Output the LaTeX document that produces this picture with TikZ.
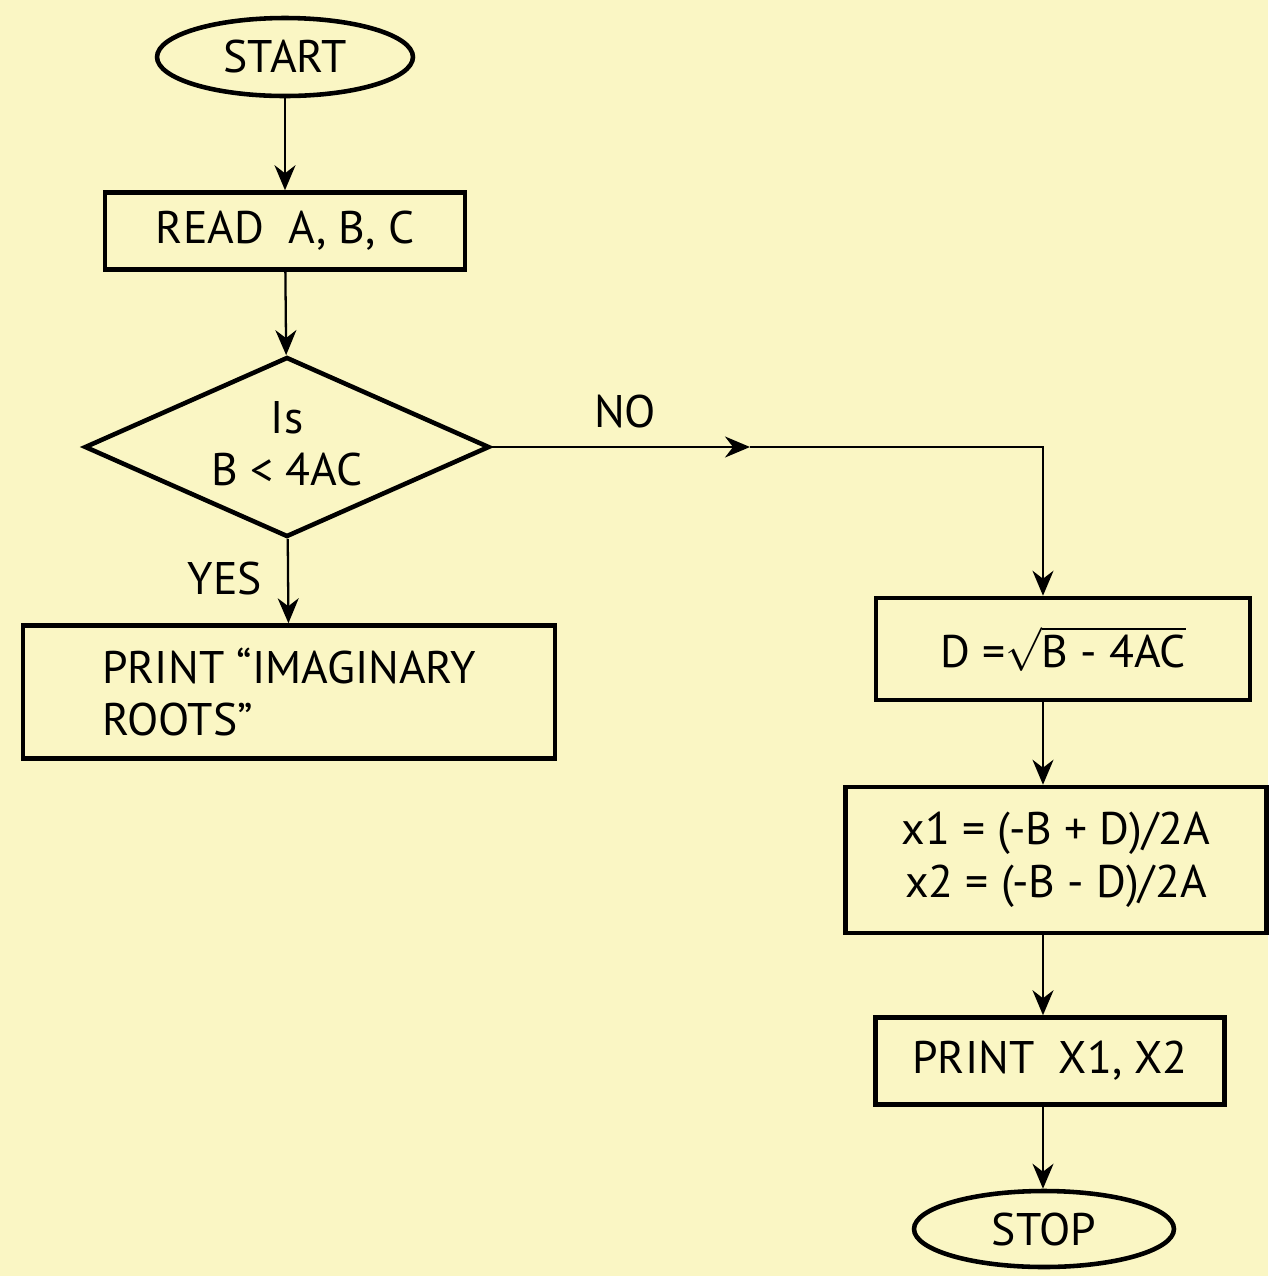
\documentclass[tikz,border=0pt]{standalone}
\usepackage{fontspec}
\setmainfont{PT Sans}
\usetikzlibrary{shapes,arrows.meta,positioning,calc}
\definecolor{paper}{RGB}{250,246,196}

\begin{document}
\begin{tikzpicture}[x=0.02cm, y=-0.02cm,
    every node/.style={font=\fontsize{26}{30}\selectfont, text=black},
    term/.style={draw, ellipse, line width=2.6pt, inner sep=0pt},
    procbox/.style={draw, rectangle, line width=2.6pt, inner sep=0pt},
    decision/.style={draw, diamond, aspect=2.25, line width=2.6pt, inner sep=0pt,
        minimum width=8.1cm, minimum height=3.6cm, align=center},
    flow/.style={line width=1.3pt, -{Stealth[length=5mm, width=4.2mm, inset=1.6mm]}}]
    \fill[paper] (0,0) rectangle (1268,1276);

    \node[term, minimum width=5.12cm, minimum height=1.56cm] (start) at (285,57) {START};
    \node[procbox, minimum width=7.2cm, minimum height=1.54cm] (read) at (285,231) {READ\ \ A, B, C};
    \node[decision] (dia) at (287,447) {\raisebox{4pt}{Is}\\\raisebox{4pt}{B < 4AC}};
    \node[procbox, minimum width=10.64cm, minimum height=2.66cm, align=left] (imag) at (289,692)
        {PRINT ``IMAGINARY\\ROOTS''};
    \node[procbox, minimum width=7.48cm, minimum height=2.04cm] (dbox) at (1063,649) {D =$\sqrt{\mbox{B - 4AC}}$};
    \node[procbox, minimum width=8.42cm, minimum height=2.92cm, align=center] (xbox) at (1056,860)
        {x1 = (-B + D)/2A\\x2 = (-B - D)/2A};
    \node[procbox, minimum width=6.98cm, minimum height=1.74cm] (pbox) at (1050,1061) {PRINT\ \ X1, X2};
    \node[term, minimum width=5.2cm, minimum height=1.52cm] (stop) at (1044,1229) {STOP};

    \node (yes) at (225,578) {YES};
    \node (no) at (625,412) {NO};

    \coordinate (rcol) at (1043,0);
    \coordinate (nomid) at (750,0);

    \draw[flow] (start) -- (read);
    \draw[flow] (read) -- (dia);
    \draw[flow] (dia) -- (imag);
    \draw[flow] (dia.east) -- (dia.east -| nomid);
    \draw[flow] (dia.east -| nomid) -| (dbox.north -| rcol);
    \draw[flow] (dbox.south -| rcol) -- (xbox.north -| rcol);
    \draw[flow] (xbox.south -| rcol) -- (pbox.north -| rcol);
    \draw[flow] (pbox.south -| rcol) -- (stop.north -| rcol);
\end{tikzpicture}
\end{document}
